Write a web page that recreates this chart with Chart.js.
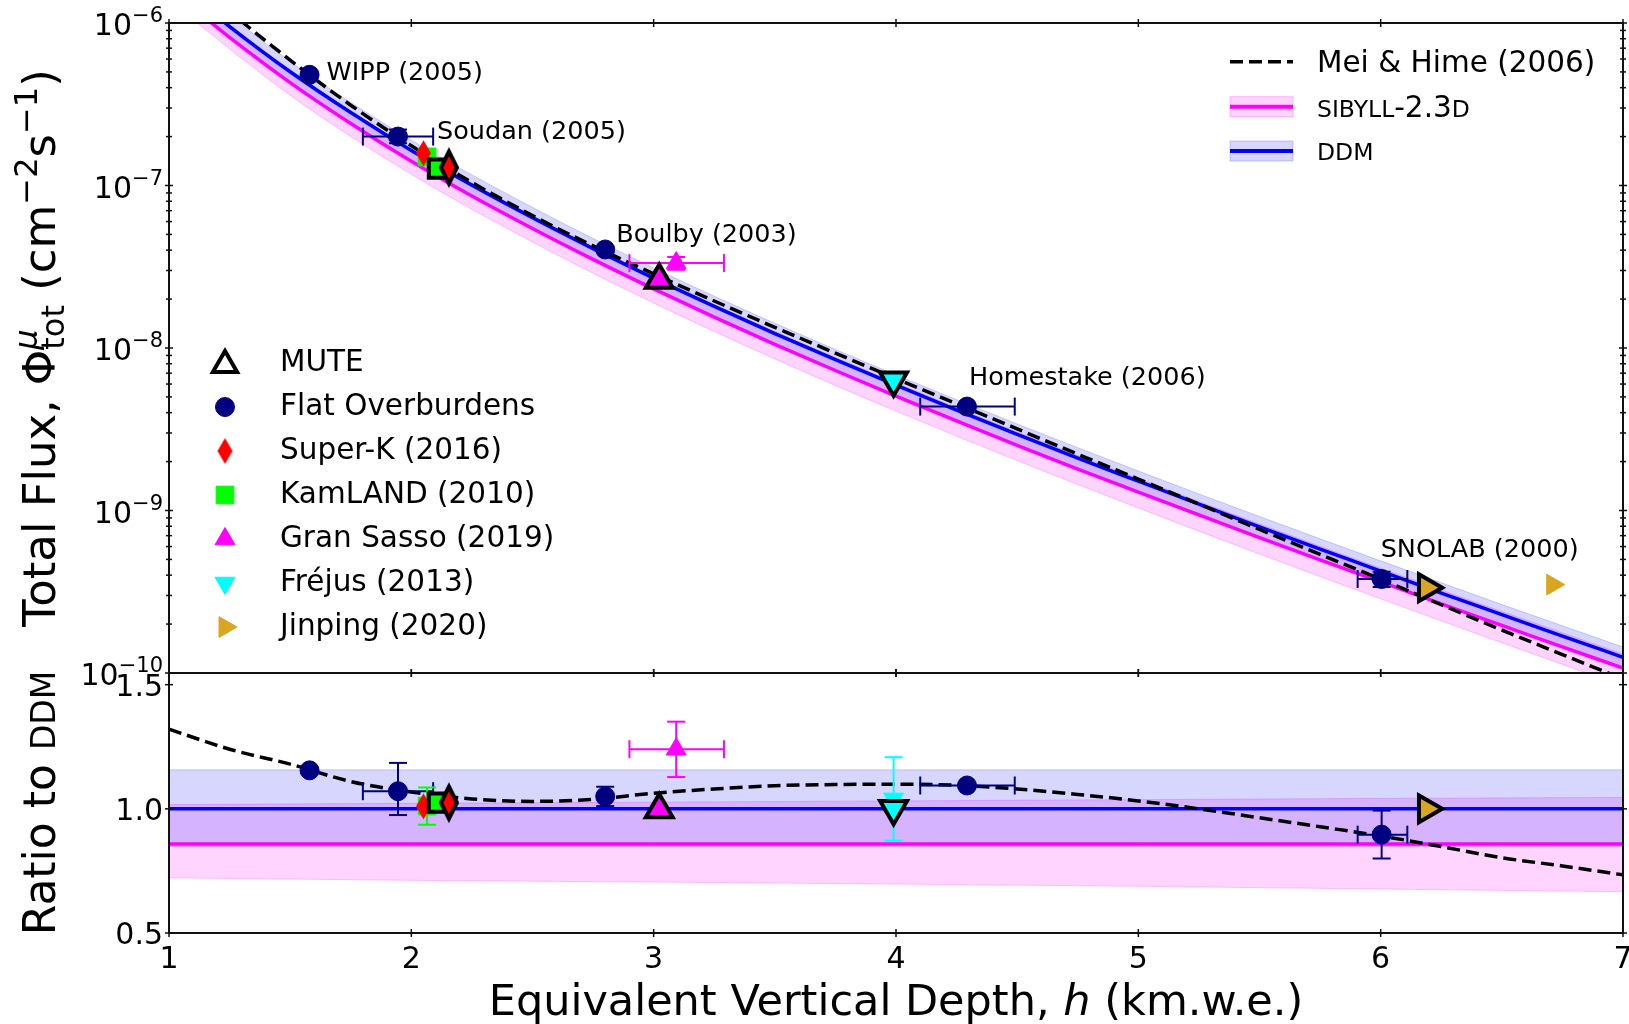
<!DOCTYPE html>
<html>
<head>
<meta charset="utf-8">
<title>Muon flux vs depth</title>
<script src="https://cdn.jsdelivr.net/npm/chart.js@4.4.1/dist/chart.umd.min.js"></script>
<style>
  html, body { margin: 0; padding: 0; background: #fff; }
  #wrap { position: relative; width: 1629px; height: 1024px; }
  #wrap canvas { position: absolute; left: 0; top: 0; }
</style>
</head>
<body>
<div id="wrap">
  <canvas id="ratioChart" width="1629" height="1024"></canvas>
  <canvas id="fluxChart" width="1629" height="1024"></canvas>
</div>
<script>
// ── model curves (depth in km.w.e., flux in cm^-2 s^-1) ─────────────
const depthFine = [1.0, 1.25, 1.5, 1.75, 2.0, 2.25, 2.5, 2.75, 3.0, 3.25, 3.5, 3.75, 4.0,
                   4.25, 4.5, 4.75, 5.0, 5.25, 5.5, 5.75, 6.0, 6.25, 6.5, 6.75, 7.0];
const ddmFlux = [1.905e-6, 9.51e-7, 5.01e-7, 2.81e-7, 1.644e-7, 1.005e-7, 6.34e-8, 4.09e-8, 2.69e-8,
                 1.803e-8, 1.227e-8, 8.47e-9, 5.90e-9, 4.15e-9, 2.94e-9, 2.10e-9, 1.514e-9, 1.094e-9,
                 7.94e-10, 5.79e-10, 4.24e-10, 3.10e-10, 2.29e-10, 1.687e-10, 1.250e-10];
const sibyllFlux = [1.634e-6, 8.16e-7, 4.30e-7, 2.41e-7, 1.411e-7, 8.62e-8, 5.44e-8, 3.51e-8, 2.31e-8,
                    1.547e-8, 1.053e-8, 7.27e-9, 5.06e-9, 3.56e-9, 2.52e-9, 1.80e-9, 1.299e-9, 9.39e-10,
                    6.81e-10, 4.97e-10, 3.64e-10, 2.66e-10, 1.965e-10, 1.447e-10, 1.073e-10];
const meiHimeFlux = [2.517e-6, 1.179e-6, 5.91e-7, 3.12e-7, 1.756e-7, 1.045e-7, 6.53e-8, 4.25e-8, 2.86e-8,
                     1.947e-8, 1.341e-8, 9.30e-9, 6.48e-9, 4.54e-9, 3.18e-9, 2.22e-9, 1.562e-9, 1.094e-9,
                     7.65e-10, 5.37e-10, 3.78e-10, 2.63e-10, 1.839e-10, 1.299e-10, 9.18e-11];
const meiHimeRatio = [1.321, 1.24, 1.18, 1.11, 1.068, 1.04, 1.03, 1.038, 1.063, 1.08, 1.093, 1.098, 1.099,
                      1.095, 1.08, 1.058, 1.032, 1.0, 0.964, 0.928, 0.891, 0.848, 0.803, 0.77, 0.734];

// uncertainty bands
const depthBand = [1.0, 1.5, 2.0, 2.5, 3.0, 3.5, 4.0, 4.5, 5.0, 5.5, 6.0, 6.5, 7.0];
const ddmBandHi = [2.204e-6, 5.80e-7, 1.902e-7, 7.33e-8, 3.11e-8, 1.420e-8, 6.83e-9, 3.41e-9, 1.751e-9,
                   9.19e-10, 4.90e-10, 2.64e-10, 1.446e-10];
const ddmBandLo = [1.616e-6, 4.25e-7, 1.394e-7, 5.38e-8, 2.28e-8, 1.041e-8, 5.00e-9, 2.50e-9, 1.284e-9,
                   6.73e-10, 3.59e-10, 1.938e-10, 1.060e-10];
const sibBandHi = [1.937e-6, 5.11e-7, 1.680e-7, 6.49e-8, 2.76e-8, 1.263e-8, 6.09e-9, 3.04e-9, 1.569e-9,
                   8.25e-10, 4.41e-10, 2.39e-10, 1.308e-10];
const sibBandLo = [1.375e-6, 3.594e-7, 1.172e-7, 4.49e-8, 1.892e-8, 8.57e-9, 4.09e-9, 2.03e-9, 1.037e-9,
                   5.40e-10, 2.86e-10, 1.536e-10, 8.33e-11];

// ratio panel bands and lines
const depthRatio = [1, 2, 3, 4, 5, 6, 7];
const ddmRatio = [1.0, 1.0, 1.0, 1.0, 1.0, 1.0, 1.0];
const ddmRatioHi = [1.157, 1.157, 1.157, 1.157, 1.157, 1.157, 1.157];
const ddmRatioLo = [0.848, 0.848, 0.848, 0.848, 0.848, 0.848, 0.848];
const sibRatio = [0.858, 0.858, 0.858, 0.858, 0.858, 0.858, 0.858];
const sibRatioHi = [1.017, 1.022, 1.027, 1.032, 1.037, 1.042, 1.046];
const sibRatioLo = [0.722, 0.712, 0.705, 0.697, 0.688, 0.677, 0.666];

// ── flat overburden sites ───────────────────────────────────────────
const flatNames = ['WIPP (2005)', 'Soudan (2005)', 'Boulby (2003)', 'Homestake (2006)', 'SNOLAB (2000)'];
const flatDepth = [1.58, 1.945, 2.80, 4.293, 6.004];
const flatDepthLo = [1.58, 1.80, 2.80, 4.10, 5.905];
const flatDepthHi = [1.58, 2.09, 2.80, 4.49, 6.11];
const flatFlux = [4.8e-7, 2.0e-7, 4.04e-8, 4.36e-9, 3.79e-10];
const flatFluxLo = [4.76e-7, 1.82e-7, 3.89e-8, 4.32e-9, 3.38e-10];
const flatFluxHi = [4.84e-7, 2.21e-7, 4.19e-8, 4.40e-9, 4.20e-10];
const flatRatio = [1.155, 1.071, 1.05, 1.094, 0.896];
const flatRatioLo = [1.145, 0.975, 1.011, 1.085, 0.80];
const flatRatioHi = [1.165, 1.185, 1.089, 1.103, 0.993];

// ── mountain / other experiments ────────────────────────────────────
const expNames = ['Super-K (2016)', 'KamLAND (2010)', 'Gran Sasso (2019)', 'Fréjus (2013)', 'Jinping (2020)'];
const expDepth = [2.05, 2.065, 3.093, 3.99, 6.71];
const expDepthLo = [2.05, 2.065, 2.90, 3.99, 6.71];
const expDepthHi = [2.05, 2.065, 3.29, 3.99, 6.71];
const expFlux = [1.58e-7, 1.50e-7, 3.33e-8, 6.5e-9, 3.50e-10];
const expFluxLo = [1.58e-7, 1.39e-7, 3.03e-8, 6.1e-9, 3.50e-10];
const expFluxHi = [1.58e-7, 1.61e-7, 3.63e-8, 7.0e-9, 3.50e-10];
const expRatio = [1.01, 1.011, 1.24, 1.04, null];
const expRatioLo = [1.01, 0.936, 1.128, 0.872, null];
const expRatioHi = [1.01, 1.086, 1.351, 1.208, null];

// MUTE predictions for the same sites
const muteDepth = [2.155, 2.11, 3.023, 3.99, 6.19];
const muteFlux = [1.29e-7, 1.27e-7, 2.62e-8, 6.34e-9, 3.35e-10];
const muteRatio = [1.025, 1.025, 0.997, 1.0, 1.0];

// ── axis ticks ──────────────────────────────────────────────────────
const depthTicks = [1, 2, 3, 4, 5, 6, 7];
const fluxTicks = [1e-6, 1e-7, 1e-8, 1e-9, 1e-10];
const fluxTickExp = ['−6', '−7', '−8', '−9', '−10'];
const ratioTicks = [0.5, 1.0, 1.5];
const ratioTickLabels = ['0.5', '1.0', '1.5'];

// ── styles ──────────────────────────────────────────────────────────
const FONT = '"DejaVu Sans", sans-serif';
const NAVY = '#000080';
const EXP_COLORS = ['#ff0000', '#00ff00', '#ff00ff', '#00ffff', '#daa520'];
const BLUE_BAND = 'rgba(0,0,255,0.16)';
const PINK_BAND = 'rgba(255,0,255,0.165)';

Chart.defaults.font.family = FONT;

function diamond(w, h, face, lw) {
  const pad = lw * 2 + 2;
  const c = document.createElement('canvas');
  c.width = Math.ceil(w + pad * 2);
  c.height = Math.ceil(h + pad * 2);
  const g = c.getContext('2d');
  const cx = c.width / 2, cy = c.height / 2;
  g.beginPath();
  g.moveTo(cx, cy - h / 2);
  g.lineTo(cx + w / 2, cy);
  g.lineTo(cx, cy + h / 2);
  g.lineTo(cx - w / 2, cy);
  g.closePath();
  g.fillStyle = face;
  g.fill();
  if (lw) { g.lineWidth = lw; g.strokeStyle = '#000'; g.stroke(); }
  return c;
}

const EXP_MARK = [
  { style: diamond(15, 26, '#ff0000', 0), r: 13, rot: 0, mute: diamond(16, 32, '#ff0000', 4), muteR: 18 },
  { style: 'rect', r: 12.5, rot: 0, mute: 'rect', muteR: 13 },
  { style: 'triangle', r: 11.5, rot: 0, mute: 'triangle', muteR: 15.5 },
  { style: 'triangle', r: 11.5, rot: 180, mute: 'triangle', muteR: 15.5 },
  { style: 'triangle', r: 12, rot: 90, mute: 'triangle', muteR: 15.5 },
];

// ── dataset helpers ─────────────────────────────────────────────────
const pts = (xs, ys) => xs.map((x, i) => ({ x, y: ys[i] }));

function lineSet(data, color, width, order, extra) {
  return Object.assign({
    data, showLine: true, borderColor: color, borderWidth: width, pointRadius: 0,
    fill: false, order, cubicInterpolationMode: 'monotone',
  }, extra || {});
}

function markSet(data, o) {
  return {
    data, showLine: false, order: o.order,
    pointStyle: o.style, pointRadius: o.r, pointRotation: o.rot || 0,
    pointBackgroundColor: o.face, pointBorderColor: o.edge || o.face,
    pointBorderWidth: o.lw == null ? 1 : o.lw,
    errs: o.errs || null,
  };
}

function bandSets(xs, hi, lo, fillColor, edgeColor, order) {
  return [
    lineSet(pts(xs, hi), edgeColor, 1, order, { fill: '+1', backgroundColor: fillColor }),
    lineSet(pts(xs, lo), edgeColor, 1, order),
  ];
}

// ── drawing helpers ─────────────────────────────────────────────────
function setFont(ctx, size, style) {
  ctx.font = `${style || ''} ${size}px ${FONT}`;
}

function runsWidth(ctx, runs) {
  let w = 0;
  runs.forEach(r => {
    setFont(ctx, r.size, r.style);
    if (r.adv !== false) w += ctx.measureText(r.t).width;
  });
  return w;
}

function drawRuns(ctx, runs, x, y, align) {
  const w = runsWidth(ctx, runs);
  let cx = align === 'right' ? x - w : align === 'center' ? x - w / 2 : x;
  ctx.textAlign = 'left';
  ctx.textBaseline = 'alphabetic';
  runs.forEach(r => {
    setFont(ctx, r.size, r.style);
    ctx.fillText(r.t, cx, y + (r.dy || 0));
    if (r.adv !== false) cx += ctx.measureText(r.t).width;
  });
}

function seg(ctx, x1, y1, x2, y2) {
  ctx.beginPath();
  ctx.moveTo(x1, y1);
  ctx.lineTo(x2, y2);
  ctx.stroke();
}

function drawErrs(chart, ds) {
  const e = ds && ds.errs;
  if (!e) return;
  const { ctx, chartArea: a, scales: { x, y } } = chart;
  const cap = 9;
  ctx.save();
  ctx.beginPath();
  ctx.rect(a.left, a.top, a.right - a.left, a.bottom - a.top);
  ctx.clip();
  ctx.strokeStyle = e.color;
  ctx.lineWidth = 2;
  ds.data.forEach((p, i) => {
    if (p.y == null) return;
    const px = x.getPixelForValue(p.x), py = y.getPixelForValue(p.y);
    if (e.xlo && e.xlo[i] !== e.xhi[i]) {
      const l = x.getPixelForValue(e.xlo[i]), r = x.getPixelForValue(e.xhi[i]);
      seg(ctx, l, py, r, py);
      seg(ctx, l, py - cap, l, py + cap);
      seg(ctx, r, py - cap, r, py + cap);
    }
    if (e.ylo && e.ylo[i] != null && e.ylo[i] !== e.yhi[i]) {
      const t = y.getPixelForValue(e.yhi[i]), b = y.getPixelForValue(e.ylo[i]);
      seg(ctx, px, t, px, b);
      seg(ctx, px - cap, t, px + cap, t);
      seg(ctx, px - cap, b, px + cap, b);
    }
  });
  ctx.restore();
}

function drawFrame(chart, yMajor, yMinor) {
  const { ctx, chartArea: a, scales: { x, y } } = chart;
  ctx.save();
  ctx.strokeStyle = '#111';
  ctx.lineWidth = 2;
  ctx.strokeRect(a.left, a.top, a.right - a.left, a.bottom - a.top);
  ctx.lineWidth = 1.5;
  depthTicks.forEach(v => {
    const px = x.getPixelForValue(v);
    seg(ctx, px, a.top - 4, px, a.top + 4);
    seg(ctx, px, a.bottom - 4, px, a.bottom + 4);
  });
  yMajor.forEach(v => {
    const py = y.getPixelForValue(v);
    seg(ctx, a.left - 4, py, a.left + 4, py);
    seg(ctx, a.right - 4, py, a.right + 4, py);
  });
  yMinor.forEach(v => {
    const py = y.getPixelForValue(v);
    seg(ctx, a.left - 3, py, a.left + 3, py);
    seg(ctx, a.right - 3, py, a.right + 3, py);
  });
  ctx.restore();
}

function logMinorTicks() {
  const out = [];
  for (let e = -10; e < -6; e++) for (let m = 2; m <= 9; m++) out.push(m * Math.pow(10, e));
  return out;
}

function marker(ctx, opts, x, y, face, edge, lw) {
  ctx.save();
  ctx.fillStyle = face;
  ctx.strokeStyle = edge;
  ctx.lineWidth = lw;
  Chart.helpers.drawPoint(ctx, { pointStyle: opts.style, radius: opts.r, rotation: opts.rot || 0, borderWidth: lw }, x, y);
  ctx.restore();
}

// ── flux panel decorations ──────────────────────────────────────────
const annoOffsets = [[17, -1], [39, -4], [11, -14], [2, -28], [-1, -29]];

const fluxDecor = {
  id: 'fluxDecor',
  beforeDatasetDraw(chart, args) { drawErrs(chart, chart.data.datasets[args.index]); },
  afterDraw(chart) {
    const { ctx, chartArea: a, scales: { x, y } } = chart;
    drawFrame(chart, fluxTicks, logMinorTicks());
    ctx.save();
    ctx.fillStyle = '#000';

    fluxTicks.forEach((v, i) => {
      drawRuns(ctx, [{ t: '10', size: 30 }, { t: fluxTickExp[i], size: 21, dy: -13 }],
        163, y.getPixelForValue(v) + 12, 'right');
    });

    ctx.save();
    ctx.translate(55, (a.top + a.bottom) / 2);
    ctx.rotate(-Math.PI / 2);
    drawRuns(ctx, [
      { t: 'Total Flux, Φ', size: 45 },
      { t: 'μ', size: 32, dy: -18, style: 'italic', adv: false },
      { t: 'tot', size: 32, dy: 9 },
      { t: ' (cm', size: 45 },
      { t: '−2', size: 32, dy: -18 },
      { t: 's', size: 45 },
      { t: '−1', size: 32, dy: -18 },
      { t: ')', size: 45 },
    ], 0, 0, 'center');
    ctx.restore();

    // site labels next to the flat-overburden points
    setFont(ctx, 25.5);
    ctx.textAlign = 'left';
    ctx.textBaseline = 'middle';
    flatNames.forEach((name, i) => {
      const px = x.getPixelForValue(flatDepth[i]) + annoOffsets[i][0];
      const py = y.getPixelForValue(flatFlux[i]) + annoOffsets[i][1];
      ctx.fillText(name, px, py);
    });

    // left legend
    const rows = ['MUTE', 'Flat Overburdens'].concat(expNames);
    const mx = 225, tx = 280, ry = 363, dy = 44;
    marker(ctx, { style: 'triangle', r: 14 }, mx, ry + 2, '#ffffff', '#000', 4);
    marker(ctx, { style: 'circle', r: 9.5 }, mx, ry + dy, NAVY, NAVY, 1);
    EXP_MARK.forEach((m, i) => marker(ctx, m, mx, ry + dy * (i + 2), EXP_COLORS[i], EXP_COLORS[i], 1));
    setFont(ctx, 29.5);
    ctx.fillStyle = '#000';
    ctx.textBaseline = 'middle';
    rows.forEach((t, i) => ctx.fillText(t, tx, ry + dy * i));

    // right legend: model curves
    const hx0 = 1230, hx1 = 1293, ltx = 1317;
    ctx.save();
    ctx.strokeStyle = '#000';
    ctx.lineWidth = 3.5;
    ctx.setLineDash([13, 6]);
    seg(ctx, hx0, 61.7, hx1, 61.7);
    ctx.restore();
    [[106.7, PINK_BAND, 'rgba(255,0,255,0.25)', '#ff00ff'], [151, BLUE_BAND, 'rgba(0,0,255,0.2)', '#0000ff']]
      .forEach(([yy, band, edge, line]) => {
        ctx.fillStyle = band;
        ctx.fillRect(hx0, yy - 10, hx1 - hx0, 20);
        ctx.strokeStyle = edge;
        ctx.lineWidth = 1;
        ctx.strokeRect(hx0, yy - 10, hx1 - hx0, 20);
        ctx.strokeStyle = line;
        ctx.lineWidth = 4;
        seg(ctx, hx0, yy, hx1, yy);
      });
    ctx.fillStyle = '#000';
    drawRuns(ctx, [{ t: 'Mei & Hime (2006)', size: 29.5 }], ltx, 61.7 + 10.7, 'left');
    drawRuns(ctx, [{ t: 'SIBYLL', size: 23.5 }, { t: '-2.3', size: 29.5 }, { t: 'D', size: 23.5 }], ltx, 106.7 + 10.7, 'left');
    drawRuns(ctx, [{ t: 'DDM', size: 23.5 }], ltx, 151 + 8.5, 'left');
    ctx.restore();
  },
};

// ── ratio panel decorations ─────────────────────────────────────────
const ratioDecor = {
  id: 'ratioDecor',
  beforeDatasetDraw(chart, args) { drawErrs(chart, chart.data.datasets[args.index]); },
  afterDraw(chart) {
    const { ctx, chartArea: a, scales: { x, y } } = chart;
    drawFrame(chart, ratioTicks, []);
    ctx.save();
    ctx.fillStyle = '#000';
    ratioTicks.forEach((v, i) => {
      drawRuns(ctx, [{ t: ratioTickLabels[i], size: 30 }], 163, y.getPixelForValue(v) + 11, 'right');
    });
    depthTicks.forEach(v => {
      drawRuns(ctx, [{ t: String(v), size: 30 }], x.getPixelForValue(v), 968, 'center');
    });
    drawRuns(ctx, [
      { t: 'Equivalent Vertical Depth, ', size: 43 },
      { t: 'h', size: 43, style: 'italic' },
      { t: ' (km.w.e.)', size: 43 },
    ], (a.left + a.right) / 2, 1015, 'center');
    ctx.translate(55, (a.top + a.bottom) / 2);
    ctx.rotate(-Math.PI / 2);
    drawRuns(ctx, [{ t: 'Ratio to ', size: 44 }, { t: 'DDM', size: 33 }], 0, 0, 'center');
    ctx.restore();
  },
};

function hiddenScale(extra, vertical) {
  return Object.assign({
    ticks: { display: false },
    grid: { display: false, drawTicks: false },
    border: { display: false },
    title: { display: false },
    afterFit: s => { if (vertical) s.width = 0; else s.height = 0; },
  }, extra);
}

function makeChart(id, yScale, padding, datasets, plugin) {
  return new Chart(document.getElementById(id), {
    type: 'scatter',
    data: { datasets },
    options: {
      responsive: false,
      animation: false,
      events: [],
      layout: { autoPadding: false, padding },
      plugins: { legend: { display: false }, tooltip: { enabled: false } },
      scales: {
        x: hiddenScale({ type: 'linear', min: 1, max: 7 }, false),
        y: hiddenScale(yScale, true),
      },
    },
    plugins: [plugin],
  });
}

// ── flux panel ──────────────────────────────────────────────────────
const fluxSets = [
  ...bandSets(depthBand, sibBandHi, sibBandLo, PINK_BAND, 'rgba(255,0,255,0.22)', 41),
  ...bandSets(depthBand, ddmBandHi, ddmBandLo, BLUE_BAND, 'rgba(0,0,255,0.18)', 40),
  lineSet(pts(depthFine, sibyllFlux), '#ff00ff', 3.5, 31),
  lineSet(pts(depthFine, ddmFlux), '#0000ff', 3.5, 30),
  lineSet(pts(depthFine, meiHimeFlux), '#000000', 3.5, 29, { borderDash: [13, 6] }),
  markSet(pts(flatDepth, flatFlux), {
    style: 'circle', r: 9.5, face: NAVY, order: 20,
    errs: { xlo: flatDepthLo, xhi: flatDepthHi, ylo: flatFluxLo, yhi: flatFluxHi, color: NAVY },
  }),
  ...expNames.map((_, i) => markSet([{ x: expDepth[i], y: expFlux[i] }], {
    style: EXP_MARK[i].style, r: EXP_MARK[i].r, rot: EXP_MARK[i].rot, face: EXP_COLORS[i], order: 10 + i,
    errs: { xlo: [expDepthLo[i]], xhi: [expDepthHi[i]], ylo: [expFluxLo[i]], yhi: [expFluxHi[i]], color: EXP_COLORS[i] },
  })),
  ...expNames.map((_, i) => markSet([{ x: muteDepth[i], y: muteFlux[i] }], {
    style: EXP_MARK[i].mute, r: EXP_MARK[i].muteR, rot: EXP_MARK[i].rot, face: EXP_COLORS[i],
    edge: '#000', lw: 4, order: i,
  })),
];

// ── ratio panel ─────────────────────────────────────────────────────
const ratioSets = [
  ...bandSets(depthRatio, sibRatioHi, sibRatioLo, PINK_BAND, 'rgba(255,0,255,0.22)', 41),
  ...bandSets(depthRatio, ddmRatioHi, ddmRatioLo, BLUE_BAND, 'rgba(0,0,255,0.18)', 40),
  lineSet(pts(depthRatio, sibRatio), '#ff00ff', 3.5, 31),
  lineSet(pts(depthRatio, ddmRatio), '#0000ff', 3.5, 30),
  lineSet(pts(depthFine, meiHimeRatio), '#000000', 3.5, 29, { borderDash: [13, 6] }),
  markSet(pts(flatDepth, flatRatio), {
    style: 'circle', r: 9.5, face: NAVY, order: 20,
    errs: { xlo: flatDepthLo, xhi: flatDepthHi, ylo: flatRatioLo, yhi: flatRatioHi, color: NAVY },
  }),
  ...expNames.map((_, i) => markSet([{ x: expDepth[i], y: expRatio[i] }], {
    style: EXP_MARK[i].style, r: EXP_MARK[i].r, rot: EXP_MARK[i].rot, face: EXP_COLORS[i], order: 10 + i,
    errs: { xlo: [expDepthLo[i]], xhi: [expDepthHi[i]], ylo: [expRatioLo[i]], yhi: [expRatioHi[i]], color: EXP_COLORS[i] },
  })),
  ...expNames.map((_, i) => markSet([{ x: muteDepth[i], y: muteRatio[i] }], {
    style: EXP_MARK[i].mute, r: EXP_MARK[i].muteR, rot: EXP_MARK[i].rot, face: EXP_COLORS[i],
    edge: '#000', lw: 4, order: i,
  })),
];

makeChart('ratioChart', { type: 'linear', min: 0.5, max: 1.547 },
  { left: 169, right: 6, top: 673, bottom: 91 }, ratioSets, ratioDecor);
makeChart('fluxChart', { type: 'logarithmic', min: 1e-10, max: 1e-6 },
  { left: 169, right: 6, top: 23, bottom: 351 }, fluxSets, fluxDecor);
</script>
</body>
</html>
